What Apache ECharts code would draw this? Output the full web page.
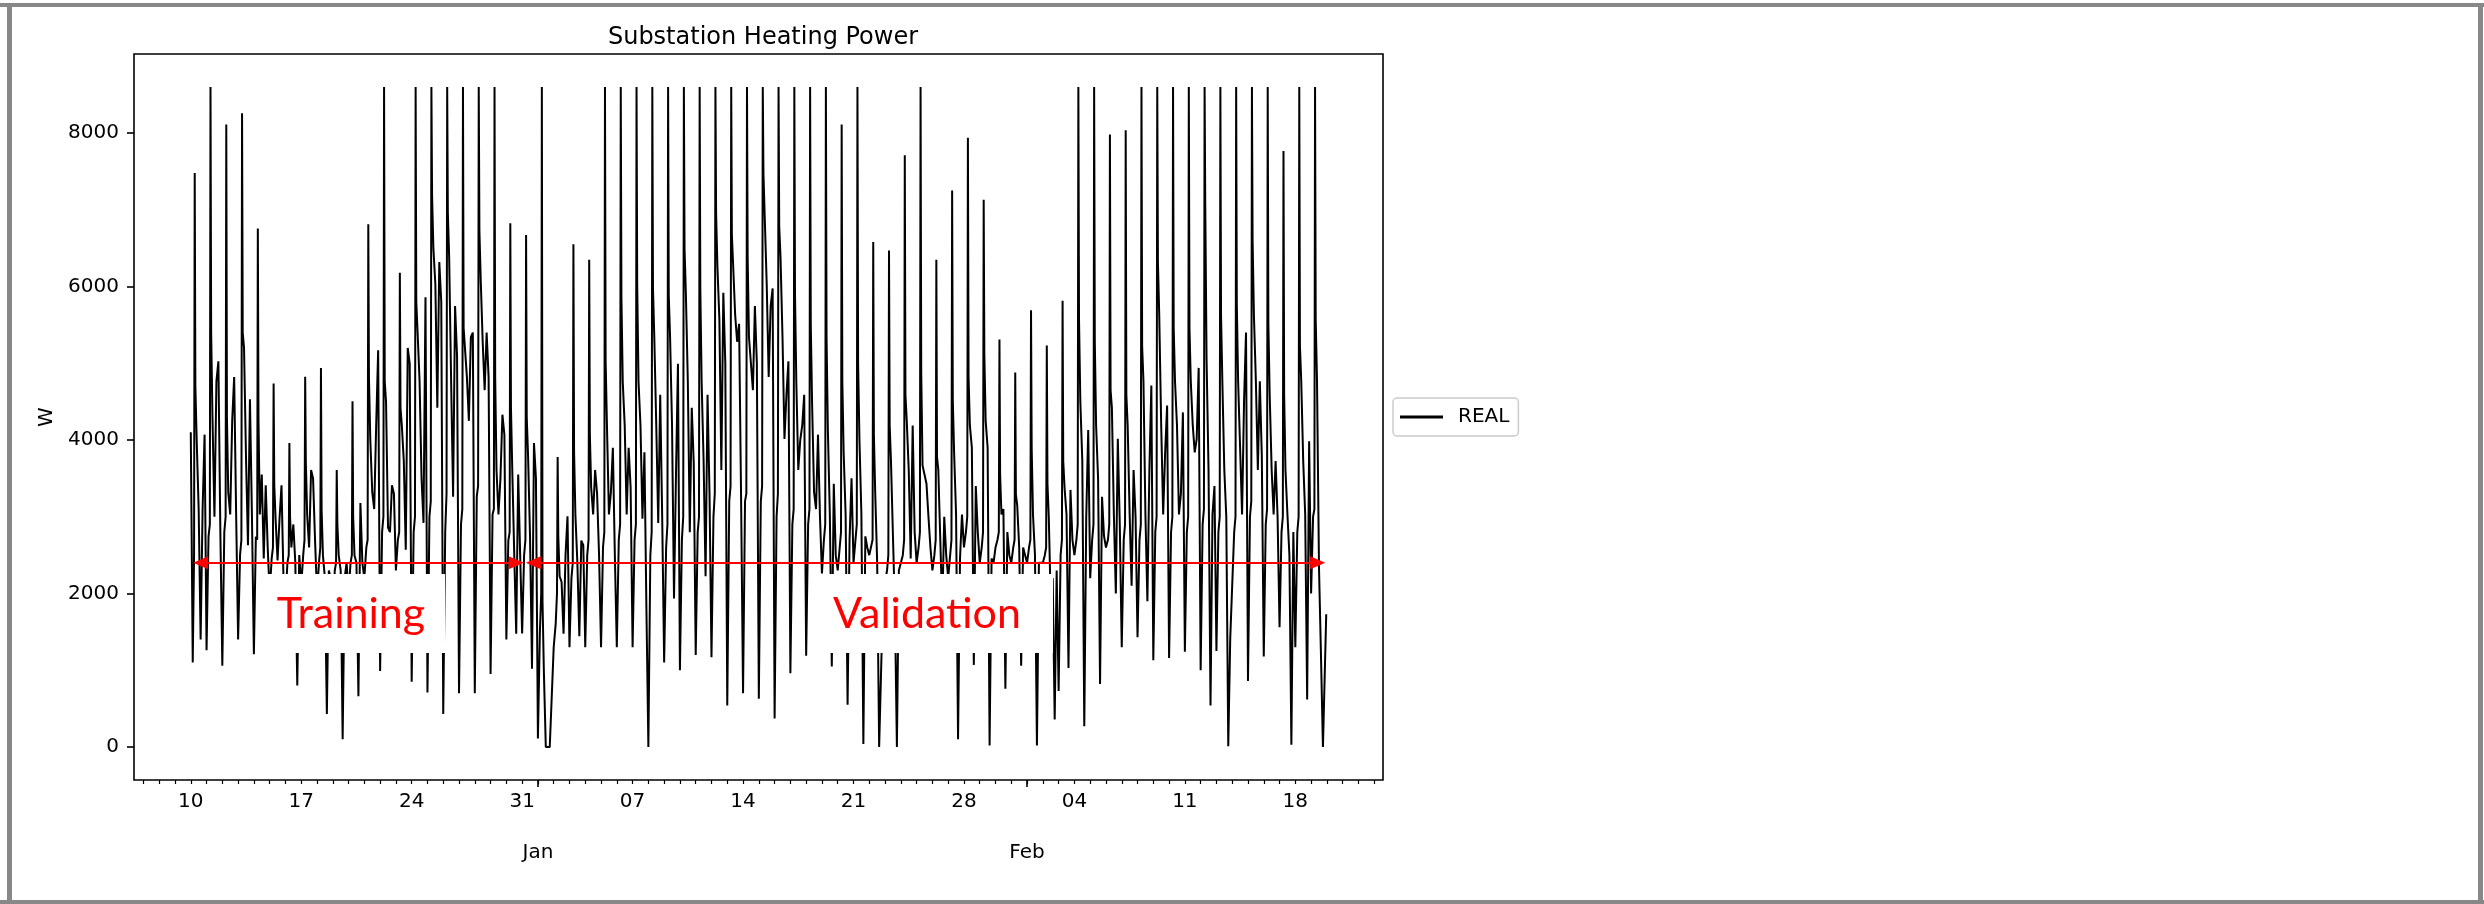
<!DOCTYPE html>
<html>
<head>
<meta charset="utf-8">
<script src="https://cdn.jsdelivr.net/npm/echarts@6/dist/echarts.min.js"></script>
<style>
  html, body { margin: 0; padding: 0; background: #ffffff; }
  #chart { width: 2484px; height: 904px; }
</style>
</head>
<body>
<div id="chart"></div>
<script>
// ---------------- data ----------------
const TITLE = 'Substation Heating Power';
const SERIES_NAME = 'REAL';
const Y_NAME = 'W';
const START_DATE = '2018-12-10T00:00:00Z';
// hours of the day at which each daily row is sampled
const HOURS = [0, 3, 5, 6, 7, 9, 12, 15, 18, 21];
// one row per day (Dec 10 ... Feb 19), values in W
const DAY_VALUES = [
  [4100,1100,2500,7480,4700,4000,3100,1400,3100,4070],
  [1260,2740,2900,8600,5400,4300,3000,4765,5025,2800],
  [1060,2800,3000,8110,4300,3320,3030,4250,4820,3030],
  [1400,2510,2700,8257,5400,5200,3780,2630,4530,3030],
  [1210,2740,2700,6756,4250,3030,3550,2456,3410,2600],
  [2000,2450,2600,4735,3410,2975,2430,2975,3410,2200],
  [1900,2400,2500,3960,3000,2600,2900,2400,800,2500],
  [2100,2500,2700,4823,3725,3030,2600,3610,3500,2700],
  [2000,2400,2600,4940,3090,2500,2200,430,2300,2200],
  [1500,2300,2400,3610,2900,2500,2300,100,2200,2400],
  [2000,2400,2500,4505,3000,2500,2400,660,3180,2400],
  [2200,2600,2700,6810,4820,4020,3320,3100,4190,5170],
  [990,2800,3000,8600,4765,4500,2860,2800,3410,3300],
  [2300,2700,2800,6180,4420,4190,3730,2570,5200,4995],
  [850,2800,3000,8600,5800,5400,4765,3500,2920,5860],
  [710,3000,3200,8600,7190,6500,6030,4420,6320,5800],
  [430,2800,3300,8600,6960,6380,4765,3260,5745,5100],
  [700,2900,3100,8600,5460,5200,4820,4250,5342,5400],
  [700,3265,3400,8600,6727,6090,5280,4650,5400,4820],
  [950,3030,3100,8600,4820,3610,3030,3500,4330,4070],
  [1400,2690,2800,6825,4420,3610,2510,1475,3550,2500],
  [1480,2500,2700,6670,4300,3800,2745,1020,3960,3500],
  [110,1500,2000,8600,1900,1000,0,0,0,0],
  [1300,1600,2000,3780,2745,2225,2150,1475,2500,3005],
  [1300,2200,2400,6550,3840,3030,2400,1445,2690,2630],
  [1300,2500,2700,6350,4070,3380,3030,3610,3300,2500],
  [1300,2600,2800,8600,5025,4190,3030,3320,3900,2500],
  [1300,2700,2900,8600,5860,4765,4190,3030,3900,3380],
  [1300,2700,2900,8600,6030,4765,4190,2975,3840,1820],
  [0,2500,2800,8600,5975,5342,4190,2920,4590,3000],
  [1100,2600,2900,8600,5890,5342,4190,1935,3550,4995],
  [1000,2700,3000,8600,6496,5919,4765,2800,4420,3700],
  [1200,2800,3000,8600,5975,4765,3730,2225,4590,3300],
  [1170,3000,3300,8600,6960,6265,5570,3610,5919,5000],
  [540,3200,3400,8600,6670,6265,5630,5280,5515,3260],
  [700,3200,3300,8600,6380,5342,4995,4650,5745,5000],
  [630,3200,3400,8600,7480,6900,6030,4820,5745,5975],
  [370,3000,3300,8600,6785,6380,5342,4015,4590,5025],
  [960,2900,3100,8600,5919,4765,3610,4000,4190,4590],
  [1190,2900,3100,8600,5515,4475,3320,3100,4070,3000],
  [2260,2700,2900,8600,5342,4130,3030,1050,3430,2500],
  [2300,2600,2800,8110,4765,3840,3030,550,2700,3500],
  [2400,2700,2900,8600,4995,4015,3030,40,2745,2600],
  [2500,2500,2700,6580,4070,3320,2400,0,0,2000],
  [2000,2300,2500,6470,4190,3725,2745,1800,0,2300],
  [2300,2500,2700,7710,4590,4250,3610,2456,4190,2800],
  [2400,2600,2800,8600,4880,3670,3550,3430,3000,2600],
  [2300,2500,2700,6350,3780,3610,2700,1800,3000,2500],
  [2200,2500,2700,7250,4535,3840,3030,100,2456,3030],
  [2600,2800,3000,7940,4820,4190,3900,1070,3400,2800],
  [2400,2600,2800,7130,5110,4250,3900,20,2456,2400],
  [2600,2700,2800,5310,3550,3030,3100,760,2800,2500],
  [2400,2600,2700,4880,3290,3150,2600,1060,2600,2500],
  [2400,2600,2700,5690,3900,3030,2500,20,2400,2400],
  [2400,2500,2600,5230,3437,3000,1880,2200,360,2300],
  [730,2500,2700,5815,3725,3380,3030,1030,3350,2700],
  [2500,2700,2900,8600,5570,4500,3725,270,3000,4130],
  [2200,2700,2900,8600,5280,4190,3500,820,3260,2750],
  [2600,2700,2900,7980,4650,4420,3030,2000,4015,2900],
  [1300,2700,2900,8037,4590,4190,3030,2100,3610,3000],
  [1430,2700,2900,8600,5225,4765,3030,1900,3600,4710],
  [1130,2800,3000,8600,6325,5630,4190,3030,3840,4450],
  [1160,2800,3000,8600,5460,4765,4190,3030,3300,4360],
  [1240,2800,3000,8600,5460,4765,4190,3840,4015,4940],
  [1000,2900,3100,8600,7073,5050,3610,540,3030,3400],
  [1250,2800,3000,8600,5630,4765,3610,3000,10,1415],
  [1430,2800,3000,8600,5775,4765,3900,3030,4500,5400],
  [860,3000,3200,8600,6610,5630,4765,3610,4765,3800],
  [1180,2900,3100,8600,5515,4590,3610,3030,3725,3000],
  [1560,2800,3000,7766,4590,3610,3030,2500,30,2800],
  [1300,2800,3000,8600,5225,4765,3725,3030,620,3985],
  [2000,3000,3100,8600,5570,4765,2340,1200,0,0]
];
// last reading(s) of the final day
const TAIL_HOURS = [23];
const TAIL_VALUES = [1730];

// tick labels
const Y_TICKS = [0, 2000, 4000, 6000, 8000];
const WEEK_TICKS = ['2018-12-10','2018-12-17','2018-12-24','2018-12-31','2019-01-07','2019-01-14',
                    '2019-01-21','2019-01-28','2019-02-04','2019-02-11','2019-02-18'];
const MONTH_TICKS = ['2019-01-01','2019-02-01'];
const MONTH_LABELS = ['Jan', 'Feb'];

// annotations (arrow ranges, level)
const TRAIN_LABEL = 'Training';
const VALID_LABEL = 'Validation';
const TRAIN_RANGE = ['2018-12-10T15:00:00Z', '2018-12-30T15:00:00Z'];
const VALID_RANGE = ['2018-12-31T17:00:00Z', '2019-02-19T10:00:00Z'];
const ARROW_LEVEL = 2400;

// ---------------- build ----------------
const HOUR = 3600000, DAY = 24 * HOUR;
const t0 = Date.parse(START_DATE);
const toTs = s => Date.parse(s.length === 10 ? s + 'T00:00:00Z' : s);

const seriesData = [];
DAY_VALUES.forEach((row, d) => {
  row.forEach((v, i) => seriesData.push([t0 + d * DAY + HOURS[i] * HOUR, v]));
});
const lastDay = DAY_VALUES.length - 1;
TAIL_HOURS.forEach((h, i) => seriesData.push([t0 + lastDay * DAY + h * HOUR, TAIL_VALUES[i]]));

// matplotlib-like 5% margins
const xFirst = seriesData[0][0], xLast = seriesData[seriesData.length - 1][0];
const xSpan = xLast - xFirst;
const xMin = xFirst - 0.05 * xSpan, xMax = xLast + 0.05 * xSpan;
const vals = seriesData.map(p => p[1]);
const vMin = Math.min(...vals), vMax = Math.max(...vals);
const ySpan = vMax - vMin;
const yMin = vMin - 0.05 * ySpan, yMax = vMax + 0.05 * ySpan;

const dailyTicks = [];
for (let t = Math.ceil(xMin / DAY) * DAY; t <= xMax; t += DAY) dailyTicks.push(t);
const weekTs = WEEK_TICKS.map(toTs);
const monthTs = MONTH_TICKS.map(toTs);
const nearestIndex = (arr, v) => {
  let best = 0;
  arr.forEach((m, i) => { if (Math.abs(m - v) < Math.abs(arr[best] - v)) best = i; });
  return best;
};

const FONT = 'DejaVu Sans';
const chart = echarts.init(document.getElementById('chart'), null, { renderer: 'canvas' });

const option = {
  animation: false,
  backgroundColor: '#ffffff',
  title: {
    text: TITLE, left: 758, top: 21, textAlign: 'center',
    textStyle: { fontSize: 24, fontWeight: 'normal', color: '#000', fontFamily: FONT }
  },
  legend: {
    orient: 'vertical', left: 1393, top: 398,
    padding: [9, 9, 9, 7],
    itemWidth: 43, itemHeight: 3, icon: 'rect',
    borderColor: '#cccccc', borderWidth: 1.5, borderRadius: 4,
    backgroundColor: 'rgba(255,255,255,0.8)',
    textStyle: { fontSize: 20, color: '#000', fontFamily: FONT, padding: [0, 0, 0, 10] },
    data: [{ name: SERIES_NAME, itemStyle: { color: '#000' } }]
  },
  grid: {
    left: 134, top: 54, width: 1249, height: 726,
    show: true, borderColor: '#000', borderWidth: 1.6, backgroundColor: 'transparent'
  },
  xAxis: [
    {
      type: 'value', min: xMin, max: xMax, position: 'bottom',
      axisLine: { show: false, onZero: false },
      splitLine: { show: false },
      axisTick: { show: true, customValues: dailyTicks, length: 4, lineStyle: { color: '#000', width: 1.2 } },
      axisLabel: {
        show: true, customValues: weekTs, margin: 12,
        fontSize: 20, color: '#000', fontFamily: FONT,
        formatter: v => String(new Date(v).getUTCDate()).padStart(2, '0')
      }
    },
    {
      type: 'value', min: xMin, max: xMax, position: 'bottom',
      axisLine: { show: false, onZero: false },
      splitLine: { show: false },
      axisTick: { show: true, customValues: monthTs, length: 7, lineStyle: { color: '#000', width: 1.6 } },
      axisLabel: {
        show: true, customValues: monthTs, margin: 63,
        fontSize: 20, color: '#000', fontFamily: FONT,
        formatter: v => MONTH_LABELS[nearestIndex(monthTs, v)]
      }
    }
  ],
  yAxis: {
    type: 'value', min: yMin, max: yMax,
    name: Y_NAME, nameLocation: 'middle', nameGap: 70, nameRotate: 90,
    nameTextStyle: { fontSize: 20, color: '#000', fontFamily: FONT },
    axisLine: { show: false, onZero: false },
    splitLine: { show: false },
    axisTick: { show: true, customValues: Y_TICKS, length: 7, lineStyle: { color: '#000', width: 1.6 } },
    axisLabel: {
      show: true, customValues: Y_TICKS, margin: 15, fontSize: 20, color: '#000', fontFamily: FONT,
      formatter: v => String(Math.round(v))
    }
  },
  series: [{
    name: SERIES_NAME, type: 'line', xAxisIndex: 0, yAxisIndex: 0,
    data: seriesData, showSymbol: false, symbol: 'none',
    lineStyle: { color: '#000', width: 2 }, itemStyle: { color: '#000' },
    markLine: {
      silent: true, animation: false,
      symbol: ['triangle', 'triangle'], symbolSize: [13, 15],
      lineStyle: { color: '#ff0000', width: 2, type: 'solid' },
      itemStyle: { color: '#ff0000' },
      label: { show: false },
      emphasis: { disabled: true },
      data: [
        [{ coord: [toTs(TRAIN_RANGE[0]), ARROW_LEVEL] }, { coord: [toTs(TRAIN_RANGE[1]), ARROW_LEVEL] }],
        [{ coord: [toTs(VALID_RANGE[0]), ARROW_LEVEL] }, { coord: [toTs(VALID_RANGE[1]), ARROW_LEVEL] }]
      ]
    }
  }],
  graphic: [
    // page frame
    { type: 'rect', z: 200, shape: { x: 0, y: 3, width: 2484, height: 4 }, style: { fill: '#888888' } },
    { type: 'rect', z: 200, shape: { x: 7, y: 3, width: 5, height: 901 }, style: { fill: '#888888' } },
    { type: 'rect', z: 200, shape: { x: 0, y: 900, width: 2484, height: 4 }, style: { fill: '#888888' } },
    { type: 'rect', z: 200, shape: { x: 2478, y: 3, width: 5, height: 901 }, style: { fill: '#888888' } },
    // annotation boxes
    { type: 'rect', z: 100, shape: { x: 266, y: 574, width: 179, height: 79 }, style: { fill: '#ffffff' } },
    { type: 'text', z: 101, x: 351, y: 614,
      style: { text: TRAIN_LABEL, fill: '#ff0000', font: '43px Lato', align: 'center', verticalAlign: 'middle' } },
    { type: 'rect', z: 100, shape: { x: 818, y: 574, width: 235, height: 79 }, style: { fill: '#ffffff' } },
    { type: 'text', z: 101, x: 927, y: 614,
      style: { text: VALID_LABEL, fill: '#ff0000', font: '43px Lato', align: 'center', verticalAlign: 'middle' } }
  ]
};
chart.setOption(option);
</script>
</body>
</html>
